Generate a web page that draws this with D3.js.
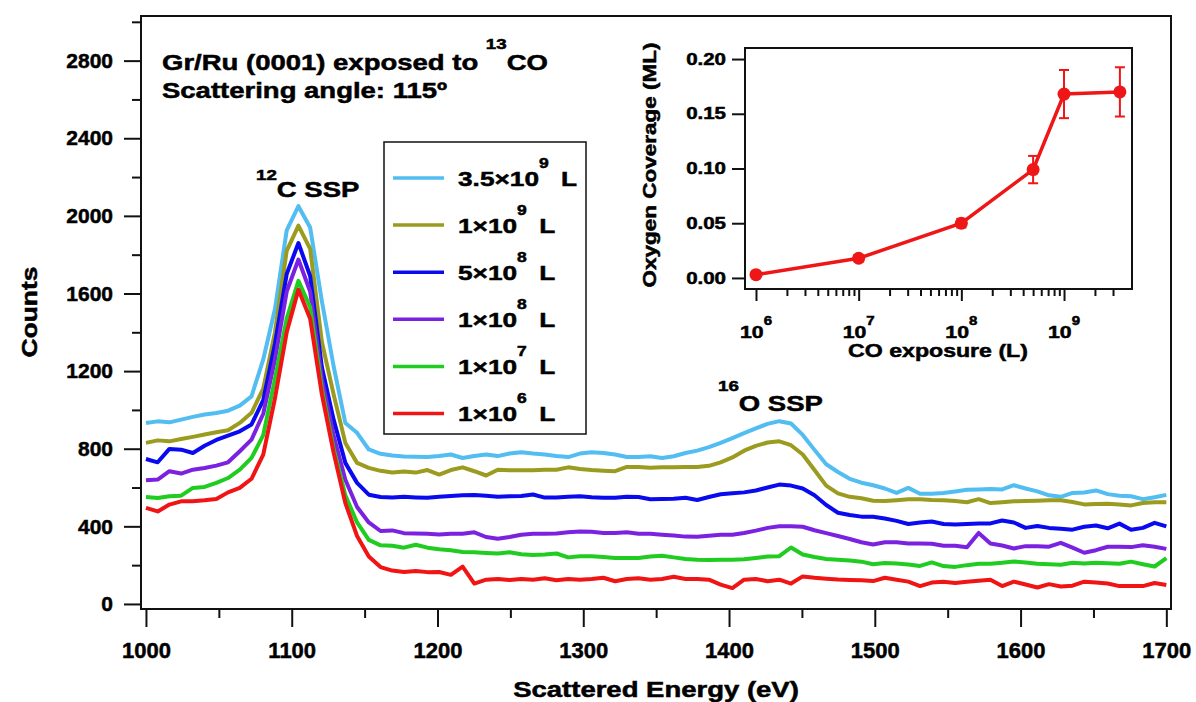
<!DOCTYPE html>
<html>
<head>
<meta charset="utf-8">
<script src="https://cdn.jsdelivr.net/npm/d3@7/dist/d3.min.js"></script>
<style>
  body { margin: 0; background: #fff; }
  svg text { font-family: "Liberation Sans", Arial, sans-serif; font-weight: bold; fill: #000;
             stroke: #000; stroke-width: 0.5px; paint-order: stroke; }
</style>
</head>
<body>
<div id="chart"></div>
<script>
// spectra, one sample every ~8 eV between 1000 and 1700 eV (88 points)
const energyStart = 1000;
const energyEnd = 1700;

const counts3p5e9 = [933, 941, 936, 950, 964, 976, 984, 996, 1022, 1070,
  1260, 1520, 1925, 2050, 1940, 1560, 1225, 933, 882, 796,
  774, 765, 760, 758, 757, 762, 770, 752, 762, 770,
  762, 775, 782, 775, 770, 762, 757, 775, 782, 778,
  770, 757, 757, 761, 752, 761, 778, 790, 808, 830,
  855, 880, 905, 928, 942, 930, 871, 794, 720, 680,
  645, 625, 612, 595, 572, 598, 568, 568, 572, 580,
  588, 590, 593, 590, 612, 595, 580, 560, 552, 572,
  574, 585, 566, 558, 555, 540, 550, 562];

const counts1e9 = [830, 843, 838, 850, 861, 873, 885, 895, 933, 985,
  1110, 1400, 1820, 1950, 1830, 1350, 1080, 830, 727, 701,
  686, 678, 682, 677, 690, 667, 690, 704, 684, 662,
  692, 689, 689, 689, 692, 692, 704, 695, 690, 687,
  684, 706, 706, 702, 704, 705, 706, 706, 712, 730,
  755, 790, 815, 832, 838, 818, 770, 690, 610, 570,
  552, 545, 532, 530, 535, 540, 540, 536, 534, 530,
  524, 540, 520, 524, 529, 530, 532, 534, 534, 525,
  513, 515, 517, 512, 508, 520, 524, 524];

const counts5e8 = [747, 730, 799, 795, 778, 815, 845, 868, 890, 925,
  1050, 1340, 1700, 1860, 1690, 1220, 950, 727, 624, 563,
  551, 549, 552, 549, 547, 552, 556, 560, 562, 558,
  553, 555, 556, 564, 548, 548, 553, 555, 550, 547,
  547, 553, 551, 540, 541, 542, 547, 536, 551, 565,
  570, 575, 585, 600, 615, 610, 595, 560, 510, 470,
  458, 450, 449, 440, 428, 412, 420, 425, 412, 410,
  412, 414, 415, 430, 420, 392, 402, 392, 388, 383,
  398, 404, 390, 414, 382, 392, 418, 400];

const counts1e8 = [637, 641, 684, 672, 692, 701, 713, 730, 787, 847,
  980, 1260, 1610, 1775, 1610, 1160, 870, 640, 500, 420,
  376, 379, 365, 363, 362, 358, 362, 362, 369, 345,
  336, 345, 357, 362, 362, 363, 369, 374, 372, 366,
  366, 369, 362, 362, 357, 353, 347, 346, 352, 357,
  357, 366, 378, 392, 400, 400, 398, 380, 365, 350,
  335, 318, 306, 318, 318, 312, 312, 310, 300, 300,
  292, 366, 312, 301, 286, 298, 298, 295, 315, 290,
  264, 277, 295, 295, 293, 303, 295, 284];

const counts1e7 = [551, 546, 555, 558, 598, 603, 624, 649, 692, 753,
  870, 1160, 1470, 1665, 1530, 1110, 800, 560, 420, 330,
  302, 300, 290, 305, 290, 282, 277, 268, 266, 263,
  260, 266, 256, 252, 255, 260, 240, 246, 246, 242,
  237, 237, 237, 244, 248, 240, 232, 228, 226, 228,
  228, 230, 237, 244, 246, 291, 255, 242, 232, 228,
  224, 218, 205, 211, 208, 203, 196, 214, 195, 191,
  200, 207, 207, 212, 219, 214, 207, 205, 202, 212,
  208, 212, 210, 207, 218, 205, 193, 236];

const counts1e6 = [495, 477, 512, 529, 529, 534, 541, 575, 598, 645,
  770, 1060, 1400, 1620, 1470, 1080, 780, 520, 350, 245,
  190, 172, 165, 170, 164, 165, 150, 192, 105, 125,
  129, 123, 129, 125, 132, 122, 129, 125, 129, 135,
  117, 129, 132, 125, 129, 140, 129, 129, 125, 100,
  82, 125, 129, 117, 125, 105, 142, 135, 130, 126,
  124, 122, 118, 135, 125, 115, 92, 110, 115, 108,
  115, 120, 125, 92, 115, 100, 85, 102, 90, 94,
  115, 110, 105, 92, 92, 92, 108, 98];

// legend labels: mantissa, exponent
const seriesMantissa = ["3.5×10", "1×10", "5×10", "1×10", "1×10", "1×10"];
const seriesExponent = ["9", "9", "8", "8", "7", "6"];
const seriesColors = ["#52bdf0", "#9b9b1f", "#0a0aee", "#7b22e0", "#1fcc1f", "#f01414"];

const countTicks = [0, 400, 800, 1200, 1600, 2000, 2400, 2800];
const energyTicks = [1000, 1100, 1200, 1300, 1400, 1500, 1600, 1700];

// inset: oxygen coverage vs CO exposure
const exposure = [1e6, 1e7, 1e8, 5e8, 1e9, 3.5e9];
const coverage = [0.003, 0.018, 0.050, 0.099, 0.168, 0.170];
const coverageErr = [0.002, 0.003, 0.004, 0.0125, 0.022, 0.0225];
const coverageTicks = [0, 0.05, 0.10, 0.15, 0.20];
const exposureDecades = [6, 7, 8, 9];

function draw() {
  const W = 1196, H = 702;
  const svg = d3.select("#chart").append("svg")
    .attr("width", W).attr("height", H);

  // rich text with superscripts, stretched a bit horizontally like the original
  function richText(parent, x, y, parts, o) {
    let tr = `translate(${x},${y})`;
    if (o.rotate) tr += ` rotate(${o.rotate})`;
    tr += ` scale(${o.sx || 1},1)`;
    const t = parent.append("text")
      .attr("transform", tr)
      .attr("text-anchor", o.anchor || "start")
      .style("font-size", o.size + "px");
    let up = false;
    parts.forEach(p => {
      const sup = typeof p !== "string";
      const s = t.append("tspan").text(sup ? p.sup : p)
        .style("font-size", (sup ? o.supSize : o.size) + "px");
      if (sup && !up) { s.attr("dy", -o.raise); up = true; }
      else if (!sup && up) { s.attr("dy", o.raise); up = false; }
      if (!sup && p.startsWith(" ") && o.gap) s.attr("dx", o.gap);
    });
    return t;
  }

  // ---- main plot ----
  const x = d3.scaleLinear().domain([996.6, 1703.2]).range([141, 1171]);
  const y = d3.scaleLinear().domain([-26, 3030]).range([609, 16]);

  const energies = d3.range(counts1e6.length)
    .map(i => energyStart + i * (energyEnd - energyStart) / (counts1e6.length - 1));
  const allSeries = [counts3p5e9, counts1e9, counts5e8, counts1e8, counts1e7, counts1e6];

  const line = d3.line()
    .x((d, i) => x(energies[i]))
    .y(d => y(d));

  svg.selectAll(".spec")
    .data(allSeries)
    .enter()
    .append("path")
    .attr("class", "spec")
    .attr("d", line)
    .attr("fill", "none")
    .attr("stroke", (d, i) => seriesColors[i])
    .attr("stroke-width", 4)
    .attr("stroke-linejoin", "round");

  // frame
  svg.append("rect")
    .attr("x", x.range()[0]).attr("y", y.range()[1])
    .attr("width", x.range()[1] - x.range()[0])
    .attr("height", y.range()[0] - y.range()[1])
    .attr("fill", "none").attr("stroke", "#111").attr("stroke-width", 2);

  // y axis
  const yMinor = d3.range(0, 3001, 200).filter(v => v % 400 !== 0);
  const gy = svg.append("g").attr("transform", `translate(${x.range()[0]},0)`);
  gy.call(d3.axisLeft(y).tickValues(countTicks).tickSize(17).tickPadding(11).tickFormat(d3.format("d")));
  gy.append("g").call(d3.axisLeft(y).tickValues(yMinor).tickSize(9).tickFormat(""));
  gy.selectAll(".domain").remove();
  gy.selectAll("line").attr("stroke", "#111").attr("stroke-width", 2);
  gy.selectAll("text").style("font-size", "21px").attr("fill", "#000");

  // x axis
  const xMinor = d3.range(1050, 1700, 100);
  const gx = svg.append("g").attr("transform", `translate(0,${y.range()[0]})`);
  gx.call(d3.axisBottom(x).tickValues(energyTicks).tickSize(18).tickPadding(15).tickFormat(d3.format("d")));
  gx.append("g").call(d3.axisBottom(x).tickValues(xMinor).tickSize(9).tickFormat(""));
  gx.selectAll(".domain").remove();
  gx.selectAll("line").attr("stroke", "#111").attr("stroke-width", 2);
  gx.selectAll("text").style("font-size", "22px").attr("fill", "#000");

  // axis titles
  richText(svg, 656, 697, ["Scattered Energy (eV)"], {size: 22, sx: 1.25, anchor: "middle"});
  richText(svg, 37, 312, ["Counts"], {size: 22, sx: 1.2, anchor: "middle", rotate: -90});

  // annotations
  richText(svg, 162, 70, ["Gr/Ru (0001) exposed to ", {sup: "13"}, "CO"],
    {size: 22, sx: 1.25, supSize: 15, raise: 21});
  richText(svg, 162, 98, ["Scattering angle: 115º"], {size: 22, sx: 1.25});
  richText(svg, 256, 197, [{sup: "12"}, "C SSP"], {size: 22, sx: 1.25, supSize: 15, raise: 17});
  richText(svg, 718, 411, [{sup: "16"}, "O SSP"], {size: 22, sx: 1.25, supSize: 15, raise: 20});

  // legend
  const leg = svg.append("g");
  leg.append("rect")
    .attr("x", 384).attr("y", 142).attr("width", 202).attr("height", 292)
    .attr("fill", "#fff").attr("stroke", "#111").attr("stroke-width", 1.5);
  seriesColors.forEach((c, i) => {
    const ly = 178 + i * 47.1;
    leg.append("line")
      .attr("x1", 393).attr("x2", 444).attr("y1", ly).attr("y2", ly)
      .attr("stroke", c).attr("stroke-width", 3.5);
    richText(leg, 458, ly + 7.5, [seriesMantissa[i], {sup: seriesExponent[i]}, " L"],
      {size: 21, sx: 1.25, supSize: 14, raise: 18, gap: 4});
  });

  // ---- inset ----
  const xIn = d3.scaleLog().domain([Math.pow(10, 5.893), Math.pow(10, 9.662)]).range([745, 1132]);
  const yIn = d3.scaleLinear().domain([-0.0101, 0.2101]).range([289, 48]);

  svg.append("rect")
    .attr("x", xIn.range()[0]).attr("y", yIn.range()[1])
    .attr("width", xIn.range()[1] - xIn.range()[0])
    .attr("height", yIn.range()[0] - yIn.range()[1])
    .attr("fill", "#fff").attr("stroke", "#111").attr("stroke-width", 2);

  const red = "#ee1616";
  const pts = exposure.map((e, i) => ({e: e, c: coverage[i], err: coverageErr[i]}));

  const eb = svg.append("g").attr("stroke", red).attr("stroke-width", 2);
  pts.forEach(p => {
    const px = xIn(p.e);
    eb.append("line").attr("x1", px).attr("x2", px)
      .attr("y1", yIn(p.c - p.err)).attr("y2", yIn(p.c + p.err));
    [p.c - p.err, p.c + p.err].forEach(v => {
      eb.append("line").attr("x1", px - 5).attr("x2", px + 5)
        .attr("y1", yIn(v)).attr("y2", yIn(v));
    });
  });

  svg.append("path")
    .datum(pts)
    .attr("d", d3.line().x(p => xIn(p.e)).y(p => yIn(p.c)))
    .attr("fill", "none").attr("stroke", red).attr("stroke-width", 3.5);

  svg.selectAll(".dot")
    .data(pts)
    .enter()
    .append("circle")
    .attr("class", "dot")
    .attr("cx", p => xIn(p.e)).attr("cy", p => yIn(p.c))
    .attr("r", 6.5).attr("fill", red);

  // inset y axis
  const giy = svg.append("g").attr("transform", `translate(${xIn.range()[0]},0)`);
  giy.call(d3.axisLeft(yIn).tickValues(coverageTicks).tickSize(13).tickPadding(5).tickFormat(d3.format(".2f")));
  giy.selectAll(".domain").remove();
  giy.selectAll("line").attr("stroke", "#111").attr("stroke-width", 2);
  giy.selectAll("text")
    .style("font-size", "16px").attr("fill", "#000")
    .attr("x", null)
    .attr("transform", "translate(-19,0) scale(1.28,1)");

  // inset x axis (log)
  const majors = exposureDecades.map(k => Math.pow(10, k));
  const minors = [];
  exposureDecades.forEach(k => {
    for (let m = 2; m <= 9; m++) {
      const v = m * Math.pow(10, k);
      if (v <= 3e9) minors.push(v);
    }
  });
  const gix = svg.append("g").attr("transform", `translate(0,${yIn.range()[0]})`);
  gix.call(d3.axisBottom(xIn).tickValues(majors).tickSize(12).tickFormat(""));
  gix.append("g").call(d3.axisBottom(xIn).tickValues(minors).tickSize(7).tickFormat(""));
  gix.selectAll(".domain").remove();
  gix.selectAll("line").attr("stroke", "#111").attr("stroke-width", 2);

  exposureDecades.forEach(k => {
    richText(svg, xIn(Math.pow(10, k)), 338, ["10", {sup: String(k)}],
      {size: 17, sx: 1.25, supSize: 12, raise: 13, anchor: "middle"});
  });

  richText(svg, 938, 357, ["CO exposure (L)"], {size: 18.5, sx: 1.25, anchor: "middle"});
  richText(svg, 656, 165, ["Oxygen Coverage (ML)"], {size: 18, sx: 1.25, anchor: "middle", rotate: -90});
}

draw();
</script>
</body>
</html>
